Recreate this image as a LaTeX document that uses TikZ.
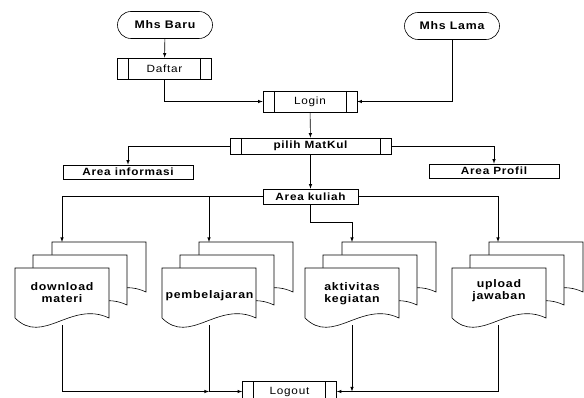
\documentclass[tikz,border=0pt]{standalone}
\usepackage{fontspec}
\newfontfamily\flowfont[FakeStretch=1.12,LetterSpace=7]{Liberation Sans}
\usetikzlibrary{
    arrows,
    shapes,
    shapes.misc
}

\tikzset{
    predef/.style={draw, minimum width=94pt, minimum height=21pt, inner sep=0pt,
        path picture={
            \draw ([xshift=11pt]path picture bounding box.north west) -- ([xshift=11pt]path picture bounding box.south west);
            \draw ([xshift=-11pt]path picture bounding box.north east) -- ([xshift=-11pt]path picture bounding box.south east);
        }},
    term/.style={draw, rounded rectangle, minimum width=95pt, minimum height=27pt, inner sep=0pt,
        font=\flowfont\bfseries\fontsize{11}{13}\selectfont},
    area/.style={draw, minimum width=130pt, minimum height=14pt, inner sep=0pt,
        font=\flowfont\bfseries\fontsize{10.5}{12}\selectfont},
    doctext/.style={align=center, inner sep=0pt,
        font=\flowfont\bfseries\fontsize{11}{12}\selectfont}
}

\begin{document}
\begin{tikzpicture}[x=1pt, y=-1pt, line width=0.6pt, >=latex,
    every node/.style={font=\flowfont\fontsize{10.5}{12}\selectfont}]
            \useasboundingbox (0,0) rectangle (584,398);

            \node[term] (mhsbaru) at (165,25) {Mhs Baru};
            \node[term] (mhslama) at (452,26) {Mhs Lama};
            
            \node[predef] (daftar) at (164.5,68.5) {Daftar};
            \node[predef] (login) at (310,101.5) {Login};
            \node[predef, minimum width=161pt, minimum height=16pt, font=\flowfont\bfseries\fontsize{10.5}{12}\selectfont] (pilih) at (310.5,146) {pilih MatKul};
            
            \node[area] (info) at (128,172) {Area informasi};
            \node[area] (profil) at (494,171) {Area Profil};
            \node[area, minimum width=95pt, minimum height=15pt] (kuliah) at (310.5,196.5) {Area kuliah};
            
            \node[predef] (logout) at (289.5,391.5) {Logout};
            
            % tumpukan dokumen
            \foreach \x in {15,162,305,452} {
                \draw[fill=white] (\x+37,292) -- (\x+37,242) -- (\x+131,242) -- (\x+131,292) .. controls (\x+93,274) and (\x+65,320) .. (\x+37,292) -- cycle;
                \draw[fill=white] (\x+18,305) -- (\x+18,255) -- (\x+112,255) -- (\x+112,305) .. controls (\x+74,287) and (\x+46,333) .. (\x+18,305) -- cycle;
                \draw[fill=white] (\x,318) -- (\x,268) -- (\x+94,268) -- (\x+94,318) .. controls (\x+56,300) and (\x+28,346) .. (\x,318) -- cycle;
            }
            
            \node[doctext] (download) at (62,293) {download\\materi};
            \node[doctext] (belajar) at (209.5,296) {pembelajaran};
            \node[doctext] (aktivitas) at (352,294) {aktivitas\\kegiatan};
            \node[doctext] (upload) at (499,291) {upload\\jawaban};
            
            \coordinate (download-top) at (62,242);
            \coordinate (belajar-top) at (209,242);
            \coordinate (aktivitas-top) at (352,242);
            \coordinate (upload-top) at (498,242);
            
            \coordinate (download-bot) at (62,325);
            \coordinate (belajar-bot) at (209,325);
            \coordinate (aktivitas-bot) at (352,325);
            \coordinate (upload-bot) at (498,325);
            
            \draw[->] (mhsbaru) -- (daftar);
            \draw[->] (daftar.south) |- (login.west);
            \draw[->] (mhslama.south) |- (login.east);
            \draw[->] (login) -- (pilih);
            
            \draw[->] (pilih.west) -| (info.north);
            \draw[->] (pilih.east) -| (profil.north);
            \draw[->] (pilih) -- (kuliah);
            
            \draw[->] (kuliah.west) -| (download-top);
            \draw[->] (kuliah.west -| belajar-top) -- (belajar-top);
            \draw[->] (kuliah.south) -- ++(0,18) -| (aktivitas-top);
            \draw[->] (kuliah.east) -| (upload-top);
            
            \draw[->] (download-bot) |- (belajar-bot |- logout.west);
            \draw[->] (belajar-bot) |- (logout.west);
            \draw[->] (aktivitas-bot) -- (aktivitas-bot |- logout.east);
            \draw[->] (upload-bot) |- (logout.east);
            \end{tikzpicture}
\end{document}
